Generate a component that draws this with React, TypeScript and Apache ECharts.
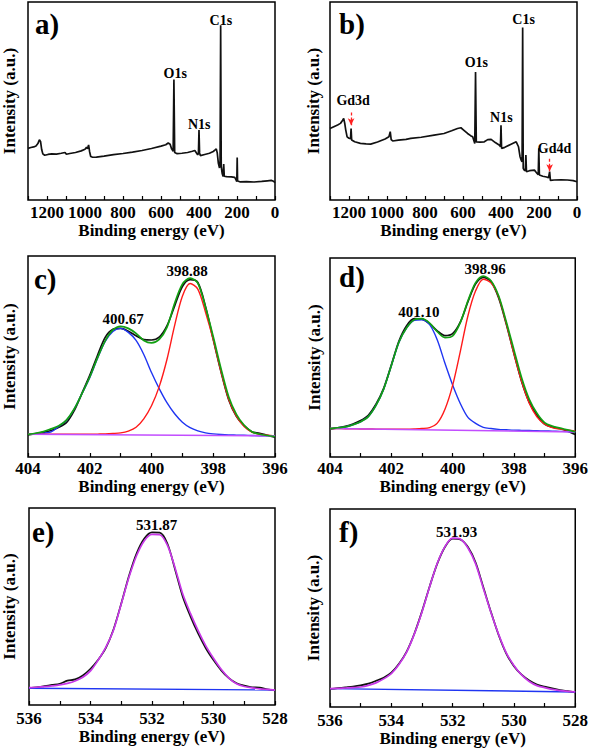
import React, { useEffect, useRef } from "react";
import * as echarts from "echarts";

// ---------- survey spectra (binding energy eV, intensity a.u.) ----------
const surveyA: number[][] = [
  [1300, 26.1], [1285, 26.5], [1270, 26.8], [1258, 27.3], [1248, 28.5], [1240, 30.4], [1234, 29.6],
  [1228, 25.5], [1222, 23.3], [1212, 22.6], [1195, 23.0], [1175, 23.3], [1150, 23.2], [1125, 23.6],
  [1105, 24.0], [1098, 23.1], [1080, 23.5], [1050, 24.0], [1020, 24.8], [1000, 25.6], [992, 26.6],
  [987, 25.9], [981, 27.8], [976, 24.5], [970, 22.0], [960, 21.6], [940, 21.7], [900, 22.2],
  [850, 22.9], [800, 23.5], [750, 24.2], [700, 25.0], [650, 26.0], [600, 27.2], [575, 27.9],
  [562, 28.8], [552, 28.2], [544, 25.8], [536, 24.6], [532, 60.8], [528, 24.0], [515, 23.4],
  [490, 23.6], [460, 24.0], [435, 24.6], [422, 25.0], [415, 24.0], [407, 22.8], [403, 23.5],
  [400, 35.3], [397, 23.8], [393, 22.4], [370, 23.0], [345, 23.6], [325, 24.5], [315, 25.3],
  [309, 25.8], [304, 23.8], [298, 18.5], [292, 16.2], [289, 20.0], [286, 88.2], [283, 17.0],
  [278, 13.4], [273, 11.9], [270, 18.2], [267, 12.0], [255, 11.8], [230, 11.7], [212, 11.4],
  [205, 10.2], [201, 9.3], [199, 21.5], [197, 9.6], [185, 9.2], [150, 9.3], [110, 9.1],
  [70, 9.4], [40, 9.7], [20, 9.9], [8, 9.5], [0, 8.7],
];
const surveyB: number[][] = [
  [1300, 36.1], [1280, 37.0], [1260, 37.9], [1245, 38.7], [1235, 40.0], [1228, 41.2], [1222, 38.5],
  [1217, 35.3], [1210, 31.9], [1200, 31.2], [1192, 31.0], [1189, 36.1], [1186, 30.3], [1170, 29.4],
  [1140, 28.6], [1110, 28.3], [1086, 28.2], [1050, 29.3], [1010, 30.8], [990, 31.9], [983, 34.5],
  [978, 30.5], [970, 29.8], [940, 30.2], [900, 30.6], [875, 31.1], [820, 31.7], [752, 32.8],
  [700, 33.6], [660, 35.0], [629, 36.1], [611, 36.5], [595, 35.2], [576, 33.6], [560, 32.5],
  [549, 31.9], [538, 28.6], [534, 64.7], [530, 29.4], [510, 29.2], [488, 29.4], [470, 30.5],
  [452, 30.6], [430, 29.0], [408, 27.7], [403, 26.9], [400, 37.8], [397, 26.1], [380, 26.6],
  [350, 28.0], [320, 29.4], [308, 26.9], [300, 22.0], [294, 20.2], [289, 19.3], [286, 87.1],
  [283, 16.0], [278, 15.1], [272, 14.8], [269, 22.7], [266, 14.3], [250, 14.8], [224, 15.1],
  [215, 14.0], [210, 13.4], [204, 12.8], [201, 26.1], [198, 12.6], [180, 12.0], [160, 11.6],
  [150, 11.2], [144, 14.3], [140, 9.9], [120, 10.1], [83, 10.2], [50, 10.1], [20, 9.8], [0, 9.2],
];
const surveyLabelsA = ["O1s", "N1s", "C1s"];
const surveyLabelsB = ["Gd3d", "O1s", "N1s", "C1s", "Gd4d"];

// ---------- N 1s high resolution ----------
const n1sEnergy = [
  404, 403.75, 403.5, 403.25, 403, 402.75, 402.5, 402.25, 402, 401.75, 401.5, 401.25, 401,
  400.75, 400.5, 400.25, 400, 399.75, 399.5, 399.25, 399, 398.75, 398.5, 398.25, 398, 397.75,
  397.5, 397.25, 397, 396.75, 396.5, 396.25, 396,
];
const cRaw = [11.0, 11.6, 12.3, 13.2, 14.8, 17.2, 23.2, 31.8, 40.6, 50.5, 59.5, 63.5, 64.0, 62.6, 60.3, 58.4, 58.2, 59.6, 65.2, 75.2, 84.8, 88.2, 86.8, 74.8, 58.5, 42.5, 28.5, 20.2, 15.6, 12.6, 11.8, 10.8, 9.8];
const cFit = [11.3, 11.8, 12.6, 14.0, 15.5, 18.5, 24.0, 31.6, 39.8, 49.3, 57.8, 63.2, 65.0, 64.0, 61.5, 58.0, 56.8, 58.5, 64.5, 76.5, 86.0, 89.0, 86.5, 74.5, 59.8, 44.0, 30.0, 21.2, 15.8, 12.6, 11.3, 10.7, 10.2];
const cPeakHigh = [11.3, 11.4, 11.8, 12.5, 15.3, 18.3, 24.0, 31.6, 39.5, 49.0, 57.5, 62.5, 64.0, 62.0, 58.0, 51.0, 42.0, 34.0, 27.0, 21.5, 17.3, 14.6, 13.0, 12.0, 11.5, 11.2, 11.0, 10.9, 10.8, 10.7, 10.6, 10.6, 10.5];
const cPeakLow = [11.3, 11.3, 11.3, 11.3, 11.3, 11.3, 11.3, 11.3, 11.3, 11.4, 11.5, 11.7, 12.0, 12.9, 14.8, 19.0, 25.5, 35.0, 48.5, 65.5, 80.0, 86.3, 83.5, 72.0, 58.3, 42.5, 28.7, 20.3, 15.2, 12.4, 11.3, 10.8, 10.5];
const cBackground = [[404, 11.3], [396, 10.5]];
const cPeakLabels = ["400.67", "398.88"];

const dRaw = [14.0, 14.6, 15.4, 16.6, 18.3, 21.0, 26.5, 34.5, 46.2, 58.3, 66.0, 69.5, 69.3, 67.0, 63.4, 61.0, 62.0, 67.8, 78.0, 87.0, 90.3, 88.2, 80.0, 66.8, 52.0, 38.0, 27.5, 21.0, 16.5, 15.0, 14.3, 13.0, 11.3];
const dFit = [14.3, 14.7, 15.1, 16.2, 17.7, 20.3, 25.9, 34.1, 45.9, 57.8, 65.0, 69.0, 69.5, 67.3, 63.0, 60.0, 60.8, 67.5, 78.5, 87.6, 90.9, 88.6, 81.0, 68.0, 53.8, 39.8, 29.0, 22.0, 17.3, 15.5, 14.5, 13.6, 12.6];
const dPeakHigh = [14.3, 14.7, 15.1, 16.2, 17.7, 20.3, 25.9, 34.1, 45.9, 57.7, 64.9, 68.7, 69.0, 66.5, 58.8, 47.1, 36.2, 26.9, 19.9, 16.9, 14.9, 14.3, 13.9, 13.7, 13.5, 13.4, 13.3, 13.2, 13.1, 13.0, 12.9, 12.8, 12.6];
const dPeakLow = [14.3, 14.3, 14.2, 14.2, 14.1, 14.1, 14.0, 14.0, 14.0, 14.0, 14.0, 14.1, 14.3, 14.8, 17.0, 24.0, 36.0, 53.0, 71.0, 83.5, 89.3, 87.5, 80.5, 67.0, 52.0, 38.0, 27.0, 20.2, 16.5, 14.8, 14.0, 13.5, 13.1];
const dBackground = [[404, 14.3], [396, 12.6]];
const dPeakLabels = ["401.10", "398.96"];

// ---------- O 1s high resolution ----------
const o1sEnergy = [
  536, 535.75, 535.5, 535.25, 535, 534.75, 534.5, 534.25, 534, 533.75, 533.5, 533.25, 533,
  532.75, 532.5, 532.25, 532, 531.75, 531.5, 531.25, 531, 530.75, 530.5, 530.25, 530, 529.75,
  529.5, 529.25, 529, 528.75, 528.5, 528.25, 528,
];
const eRaw = [8.6, 9.0, 9.6, 10.2, 10.8, 12.4, 13.0, 15.0, 18.4, 23.0, 29.0, 38.5, 51.5, 65.5, 77.0, 84.5, 87.6, 87.5, 82.0, 68.8, 55.0, 45.0, 36.3, 28.8, 22.8, 17.6, 13.6, 11.0, 9.8, 9.0, 8.8, 8.0, 7.4];
const eFit = [8.8, 9.0, 9.3, 9.7, 10.2, 11.0, 12.2, 14.1, 17.3, 22.8, 29.4, 38.1, 51.3, 64.8, 75.9, 83.4, 86.6, 86.4, 81.1, 69.6, 56.3, 46.5, 37.7, 30.0, 23.7, 18.1, 13.7, 10.8, 9.4, 8.7, 8.2, 7.9, 7.6];
const eBackground = [[536, 8.5], [528, 7.6]];
const ePeakLabels = ["531.87"];

const fRaw = [9.1, 9.5, 9.9, 10.3, 10.9, 11.8, 13.2, 14.8, 17.3, 21.8, 28.0, 37.0, 48.3, 60.9, 72.4, 80.8, 85.0, 84.6, 80.8, 73.0, 60.6, 48.0, 36.4, 27.0, 20.6, 16.3, 13.4, 11.4, 10.3, 9.4, 8.6, 8.0, 7.4];
const fFit = [9.3, 9.4, 9.6, 9.8, 10.1, 10.9, 12.2, 14.2, 16.9, 21.5, 27.7, 36.8, 48.0, 60.7, 72.6, 81.0, 85.3, 84.8, 80.3, 72.3, 60.0, 47.7, 36.7, 27.3, 21.0, 16.2, 12.9, 10.8, 9.8, 8.9, 8.3, 7.9, 7.6];
const fBackground = [[536, 9.3], [528, 7.6]];
const fPeakLabels = ["531.93"];

const panelLetters = ["a)", "b)", "c)", "d)", "e)", "f)"];

// ---------- styling ----------
const FONT = "'Times New Roman', 'Liberation Serif', serif";
const BLACK = "#111111";
const GREEN = "#12a012";
const BLUE = "#1f35f2";
const RED = "#ff1a1a";
const VIOLET = "#c24dff";
const MAGENTA = "#c838e8";

const zip = (xs: number[], ys: number[]) => xs.map((x, i) => [x, ys[i]]);

function buildOption() {
  const grids = [
    { left: 28, top: 2, width: 247, height: 198 },
    { left: 330, top: 2, width: 247, height: 198 },
    { left: 28, top: 256, width: 247, height: 201 },
    { left: 330, top: 258, width: 248, height: 199 },
    { left: 28, top: 508, width: 247, height: 197 },
    { left: 330, top: 509, width: 248, height: 198 },
  ].map((g) => ({ ...g, show: true, borderColor: "#000", borderWidth: 1.5, backgroundColor: "transparent" }));

  const xRange = [
    [0, 1300, 200], [0, 1300, 200], [396, 404, 2], [396, 404, 2], [528, 536, 2], [528, 536, 2],
  ];
  const labelMargins = [4, 4, 3, 3, 5, 5];
  const nameGaps = [19, 19, 19, 19, 23, 23];
  const yNameGaps = [10, 8, 10, 7, 11, 8];

  const xAxis = xRange.map(([min, max, interval], i) => ({
    type: "value",
    gridIndex: i,
    min,
    max,
    interval,
    inverse: true,
    axisLine: { show: false },
    axisTick: { show: true, inside: true, length: 4, lineStyle: { color: "#000", width: 1.2 } },
    minorTick: { show: true, splitNumber: 2, length: 4, lineStyle: { color: "#000", width: 1.2 } },
    splitLine: { show: false },
    minorSplitLine: { show: false },
    axisLabel: {
      color: "#000",
      fontFamily: FONT,
      fontWeight: "bold",
      fontSize: 17,
      margin: labelMargins[i],
      formatter: (v: number) => (max === 1300 && v === 1300 ? "" : String(v)),
    },
    name: "Binding energy (eV)",
    nameLocation: "middle",
    nameGap: nameGaps[i],
    nameTextStyle: { color: "#000", fontFamily: FONT, fontWeight: "bold", fontSize: 17 },
  }));

  const yAxis = grids.map((_, i) => ({
    type: "value",
    gridIndex: i,
    min: 0,
    max: 100,
    axisLine: { show: false },
    axisTick: { show: false },
    axisLabel: { show: false },
    splitLine: { show: false },
    name: "Intensity (a.u.)",
    nameLocation: "middle",
    nameGap: yNameGaps[i],
    nameTextStyle: { color: "#000", fontFamily: FONT, fontWeight: "bold", fontSize: 17 },
  }));

  const line = (idx: number, data: number[][], color: string, width: number, smooth: boolean | number, z = 2, extra: any = {}) => ({
    type: "line",
    xAxisIndex: idx,
    yAxisIndex: idx,
    data,
    showSymbol: false,
    symbol: "none",
    smooth,
    lineStyle: { color, width },
    itemStyle: { color },
    z,
    silent: true,
    ...extra,
  });

  const labelStyle = (size: number) => ({
    show: true,
    position: "inside",
    color: "#000",
    fontFamily: FONT,
    fontWeight: "bold",
    fontSize: size,
  });

  const marks = (texts: string[], coords: number[][], size: number) => ({
    symbol: "circle",
    symbolSize: 1,
    silent: true,
    itemStyle: { color: "rgba(0,0,0,0)" },
    label: labelStyle(size),
    data: texts.map((t, k) => ({ coord: coords[k], value: t, label: { ...labelStyle(size), formatter: t } })),
  });

  const arrows = (coords: number[][][]) => ({
    silent: true,
    symbol: ["none", "arrow"],
    symbolSize: [5, 7],
    label: { show: false },
    lineStyle: { color: "#ff2020", type: [3, 2], width: 1.3 },
    data: coords.map(([a, b]) => [{ coord: a }, { coord: b }]),
  });

  const series: any[] = [
    line(0, surveyA, BLACK, 1.7, false, 2, {
      markPoint: marks(surveyLabelsA, [[525, 64.1], [399, 37.9], [285, 90.9]], 14),
    }),
    line(1, surveyB, BLACK, 1.7, false, 2, {
      markPoint: marks(surveyLabelsB, [[1178, 50.5], [530, 69.2], [398, 41.9], [281, 91.4], [118, 25.8]], 14),
      markLine: arrows([[[1189, 44.2], [1189, 37.8]], [[144, 20.8], [144, 14.5]]]),
    }),
    // c
    line(2, zip(n1sEnergy, cRaw), BLACK, 1.7, 0.3, 2, {
      markPoint: marks(cPeakLabels, [[400.92, 68.5], [398.85, 92.5]], 15),
    }),
    line(2, zip(n1sEnergy, cPeakHigh), BLUE, 1.4, 0.3, 3),
    line(2, zip(n1sEnergy, cPeakLow), RED, 1.4, 0.3, 3),
    line(2, cBackground, VIOLET, 1.6, false, 4),
    line(2, zip(n1sEnergy, cFit), GREEN, 1.7, 0.3, 5),
    // d
    line(3, zip(n1sEnergy, dRaw), BLACK, 1.7, 0.3, 2, {
      markPoint: marks(dPeakLabels, [[401.1, 72.9], [398.94, 94.5]], 15),
    }),
    line(3, zip(n1sEnergy, dPeakHigh), BLUE, 1.4, 0.3, 3),
    line(3, zip(n1sEnergy, dPeakLow), RED, 1.4, 0.3, 3),
    line(3, dBackground, VIOLET, 1.6, false, 4),
    line(3, zip(n1sEnergy, dFit), GREEN, 1.7, 0.3, 5),
    // e
    line(4, zip(o1sEnergy, eRaw), BLACK, 1.7, 0.3, 2, {
      markPoint: marks(ePeakLabels, [[531.85, 91.4]], 15),
    }),
    line(4, eBackground, BLUE, 1.4, false, 3),
    line(4, zip(o1sEnergy, eFit), MAGENTA, 1.7, 0.3, 4),
    // f
    line(5, zip(o1sEnergy, fRaw), BLACK, 1.7, 0.3, 2, {
      markPoint: marks(fPeakLabels, [[531.87, 88.5]], 15),
    }),
    line(5, fBackground, BLUE, 1.4, false, 3),
    line(5, zip(o1sEnergy, fFit), MAGENTA, 1.7, 0.3, 4),
  ];

  const letterPos = [[35, 24], [339, 24], [34, 279], [339, 277], [32, 532], [339, 532]];
  const graphic = panelLetters.map((t, i) => ({
    type: "text",
    left: letterPos[i][0],
    top: letterPos[i][1] - 15,
    silent: true,
    style: { text: t, fill: "#000", font: `bold 29px ${FONT}` },
  }));

  return {
    animation: false,
    backgroundColor: "#ffffff",
    grid: grids,
    xAxis,
    yAxis,
    series,
    graphic,
  };
}

export default function App() {
  const ref = useRef<HTMLDivElement>(null);
  useEffect(() => {
    if (!ref.current) return;
    const chart = echarts.init(ref.current, undefined, { renderer: "svg" });
    chart.setOption(buildOption() as any);
    return () => chart.dispose();
  }, []);
  return (
    <div
      ref={ref}
      style={{ position: "absolute", left: 0, top: 0, width: 591, height: 750, background: "#fff" }}
    />
  );
}
